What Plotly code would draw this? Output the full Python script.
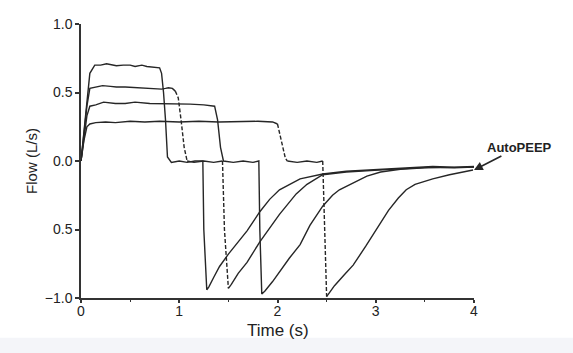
import plotly.graph_objects as go

# Trace A (highest inspiratory flow, solid)
A_t = [0, 0.03, 0.06, 0.09, 0.14, 0.2, 0.26, 0.31, 0.36, 0.43, 0.5, 0.55, 0.62, 0.67, 0.74, 0.8, 0.82, 0.84, 0.86, 0.88, 0.92, 1.0, 1.08, 1.16, 1.24, 1.25, 1.28, 1.3, 1.35, 1.41, 1.5, 1.6, 1.69, 1.82, 1.92, 2.02, 2.23, 2.46, 2.7, 3.07, 3.3, 3.58, 3.8, 4.0]
A_f = [0, 0.2, 0.45, 0.64, 0.70, 0.70, 0.71, 0.70, 0.695, 0.70, 0.70, 0.69, 0.70, 0.69, 0.685, 0.68, 0.64, 0.5, 0.3, 0.03, -0.01, 0.0, -0.01, 0.0, 0.0, -0.5, -0.94, -0.92, -0.85, -0.77, -0.68, -0.59, -0.51, -0.37, -0.28, -0.21, -0.13, -0.095, -0.075, -0.06, -0.05, -0.04, -0.045, -0.04]

# Trace B (second, with dashed transitions)
B_t = [0, 0.03, 0.06, 0.09, 0.15, 0.22, 0.3, 0.36, 0.45, 0.58, 0.7, 0.82, 0.86, 0.89, 0.93, 0.96, 0.99, 1.02, 1.05, 1.08, 1.15, 1.25, 1.35, 1.44, 1.46, 1.5, 1.53, 1.6, 1.69, 1.82, 1.92, 2.02, 2.19, 2.3, 2.46, 2.7, 3.07, 3.3, 3.58, 3.8, 4.0]
B_f = [0, 0.18, 0.4, 0.53, 0.54, 0.55, 0.545, 0.54, 0.54, 0.535, 0.53, 0.525, 0.53, 0.535, 0.53, 0.51, 0.46, 0.29, 0.1, 0.0, -0.01, 0.0, -0.01, 0.0, -0.5, -0.93, -0.9, -0.82, -0.74, -0.59, -0.49, -0.39, -0.24, -0.17, -0.1, -0.08, -0.065, -0.055, -0.045, -0.05, -0.045]

# Trace C (third, solid)
C_t = [0, 0.03, 0.06, 0.09, 0.15, 0.23, 0.35, 0.45, 0.55, 0.7, 0.83, 0.95, 1.11, 1.25, 1.36, 1.39, 1.42, 1.45, 1.55, 1.65, 1.75, 1.81, 1.82, 1.84, 1.87, 1.95, 2.02, 2.12, 2.23, 2.33, 2.46, 2.56, 2.63, 2.77, 2.91, 3.05, 3.25, 3.5, 3.8, 4.0]
C_f = [0, 0.17, 0.33, 0.40, 0.41, 0.43, 0.42, 0.42, 0.43, 0.42, 0.42, 0.415, 0.415, 0.41, 0.40, 0.3, 0.1, 0.0, -0.01, 0.0, -0.01, 0.0, -0.5, -0.97, -0.95, -0.88, -0.81, -0.71, -0.61, -0.47, -0.33, -0.25, -0.21, -0.16, -0.11, -0.08, -0.06, -0.05, -0.045, -0.045]

# Trace D (lowest inspiratory flow, with dashed transitions)
D_t = [0, 0.03, 0.06, 0.09, 0.15, 0.25, 0.35, 0.5, 0.65, 0.8, 1.0, 1.2, 1.4, 1.6, 1.8, 1.95, 2.0, 2.04, 2.08, 2.1, 2.2, 2.3, 2.4, 2.46, 2.48, 2.5, 2.58, 2.68, 2.77, 2.9, 3.04, 3.13, 3.23, 3.31, 3.4, 3.58, 3.75, 3.9, 3.99]
D_f = [0, 0.15, 0.25, 0.27, 0.28, 0.285, 0.28, 0.29, 0.285, 0.29, 0.285, 0.29, 0.285, 0.29, 0.29, 0.285, 0.27, 0.15, 0.02, 0.0, -0.01, 0.0, -0.01, 0.0, -0.5, -0.99, -0.91, -0.83, -0.76, -0.62, -0.46, -0.36, -0.27, -0.21, -0.17, -0.13, -0.1, -0.08, -0.066]

# index ranges (into the arrays) drawn with a dashed line: the fast transitions
B_dashed = [(15, 19), (23, 25)]
D_dashed = [(16, 19), (23, 25)]

y_tickvals = [1.0, 0.5, 0.0, -0.5, -1.0]
y_ticktext = ["1.0", "0.5", "0.0", "0.5", "\u22121.0"]
x_tickvals = [0, 1, 2, 3, 4]
x_ticktext = ["0", "1", "2", "3", "4"]

LINE = "#262626"
FONT = "Liberation Sans, Arial, sans-serif"

fig = go.Figure()


def add_line(t, f, dash="solid"):
    fig.add_trace(go.Scatter(x=t, y=f, mode="lines",
                             line=dict(color=LINE, width=1.4, dash=dash),
                             showlegend=False, hoverinfo="skip"))


def add_series(t, f, dashed_ranges):
    start = 0
    for a, b in dashed_ranges:
        add_line(t[start:a + 1], f[start:a + 1])
        add_line(t[a:b + 1], f[a:b + 1], "4px,2px")
        start = b
    add_line(t[start:], f[start:])


add_series(A_t, A_f, [])
add_series(B_t, B_f, B_dashed)
add_series(C_t, C_f, [])
add_series(D_t, D_f, D_dashed)

fig.add_annotation(x=4.0, y=-0.066, xref="x", yref="y",
                   text="<b>AutoPEEP</b>", showarrow=True,
                   ax=45, ay=-23, arrowhead=2, arrowsize=1.1, arrowwidth=1.6,
                   arrowcolor=LINE, font=dict(family=FONT, size=13, color="#222"))

# x axis title placed as text under the tick labels
fig.add_annotation(x=0.5, y=-0.12, xref="paper", yref="paper",
                   text="Time (s)", showarrow=False, yanchor="middle",
                   font=dict(family=FONT, size=17, color="#222"))

# light scan band at the bottom
fig.add_shape(type="rect", xref="paper", yref="paper",
              x0=-0.3, x1=1.3, y0=-0.145, y1=-0.25,
              fillcolor="#f4f5f9", line=dict(width=0), layer="below")

fig.update_layout(
    width=573, height=353,
    margin=dict(l=81, r=99, t=24, b=55),
    plot_bgcolor="white", paper_bgcolor="white",
    font=dict(family=FONT, size=14, color="#222"),
    xaxis=dict(range=[0, 4], showgrid=False, zeroline=False,
               showline=True, linecolor="#333", linewidth=1.5,
               ticks="outside", ticklen=3, tickwidth=1.5, tickcolor="#333",
               ticklabelstandoff=-4,
               tickvals=x_tickvals, ticktext=x_ticktext,
               minor=dict(tickvals=[0.5, 1.5, 2.5, 3.5], ticklen=2, tickwidth=1, tickcolor="#333"),
               tickfont=dict(size=14, color="#222")),
    yaxis=dict(range=[-1.0, 1.0], showgrid=False, zeroline=False,
               showline=True, linecolor="#333", linewidth=1.5,
               ticks="outside", ticklen=4, tickwidth=1.5, tickcolor="#333",
               tickvals=y_tickvals, ticktext=y_ticktext,
               title=dict(text="Flow (L/s)", font=dict(size=15, color="#222"), standoff=4),
               tickfont=dict(size=14, color="#222")),
)

fig.write_html("out.html")
